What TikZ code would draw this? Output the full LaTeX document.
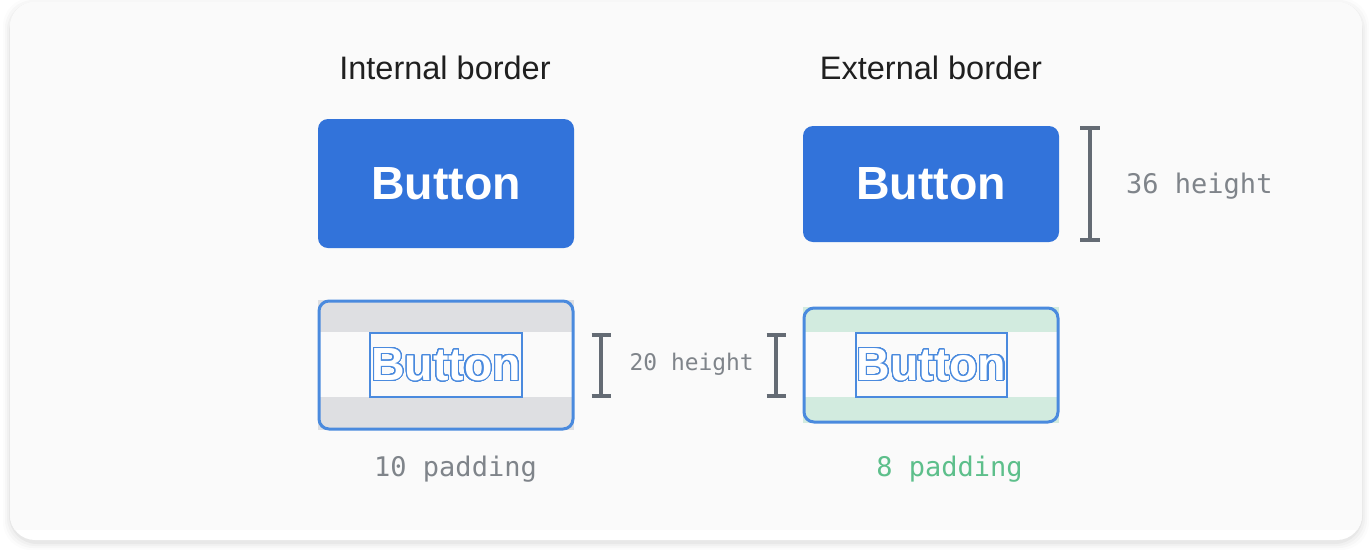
\documentclass[tikz,border=0pt]{standalone}
\usepackage{fontspec}
\setmainfont{Liberation Sans}
\newfontfamily\monof{DejaVu Sans Mono}
\usepackage{contour}
\contourlength{1.1pt}
\contournumber{40}
\definecolor{cardgray}{HTML}{FAFAFA}
\definecolor{btnblue}{HTML}{3273DA}
\definecolor{edgeblue}{HTML}{4A8ADE}
\definecolor{bandgray}{HTML}{DEDFE2}
\definecolor{bandgreen}{HTML}{D2EBDF}
\definecolor{barcol}{HTML}{646B74}
\definecolor{txtgray}{HTML}{7F848A}
\definecolor{txtgreen}{HTML}{5DBF8B}
\tikzset{
  title/.style={font=\fontsize{32.5}{36}\selectfont, text=black!88},
  btn/.style={fill=btnblue, rounded corners=10pt, inner sep=0pt, text=white,
    font=\fontsize{46.5}{50}\selectfont\bfseries},
  outerbox/.style={draw=edgeblue, line width=3pt, rounded corners=10pt, inner sep=0pt},
  textbox/.style={draw=edgeblue, line width=1.4pt, inner sep=0pt,
    font=\fontsize{46.5}{50}\selectfont\bfseries},
  bar/.style={draw=barcol, line width=3.5pt},
  meas/.style={font=\monof\fontsize{27}{30}\selectfont, text=txtgray, inner sep=0pt},
}
\begin{document}
\begin{tikzpicture}[x=1pt,y=-1pt]
\useasboundingbox (0,0) rectangle (1372,558);
\fill[white] (0,0) rectangle (1372,558);
% card shadow
\foreach \i/\o in {1/0.035,3/0.025,5/0.018,7/0.012}
  \fill[black,opacity=\o,rounded corners=28pt] (10-\i,2-\i+3) rectangle (1362+\i,540+\i+3);
\fill[white, rounded corners=25pt] (10,2) rectangle (1362,540);
\begin{scope}
  \clip[rounded corners=25pt] (10,2) rectangle (1362,540);
  \fill[cardgray] (10,2) rectangle (1362,530);
\end{scope}
% titles
\node[title] (t1) at (445,68) {Internal border};
\node[title] (t2) at (931,68) {External border};
% top buttons
\node[btn, minimum width=256pt, minimum height=129pt] (b1) at (446,183.5) {Button};
\node[btn, minimum width=256pt, minimum height=116pt] (b2) at (931,184) {Button};
% 36 height
\coordinate (m1t) at (1090,128);
\coordinate (m1b) at (1090,240);
\draw[bar] (m1t) -- (m1b);
\draw[bar] ([xshift=-10pt]m1t) -- ([xshift=10pt]m1t);
\draw[bar] ([xshift=-10pt]m1b) -- ([xshift=10pt]m1b);
\node[meas, anchor=west] (h36) at (1126,186) {36 height};
% bottom left box
\fill[bandgray] (318,300) rectangle (574,332);
\fill[bandgray] (318,397) rectangle (574,430);
\node[outerbox, minimum width=254pt, minimum height=128pt] (o1) at (446,365) {};
\node[textbox, minimum width=152pt, minimum height=64pt] (i1) at (446,365) {\contour{edgeblue}{\color{white}Button}};
% bottom right box
\fill[bandgreen] (803,307) rectangle (1059,332);
\fill[bandgreen] (803,397) rectangle (1059,423);
\node[outerbox, minimum width=254pt, minimum height=114pt] (o2) at (931,365) {};
\node[textbox, minimum width=151pt, minimum height=64pt] (i2) at (931.5,365) {\contour{edgeblue}{\color{white}Button}};
% 20 height
\coordinate (m2t) at (601,335);
\coordinate (m2b) at (601,396);
\draw[bar] (m2t) -- (m2b);
\draw[bar] ([xshift=-9.5pt]m2t) -- ([xshift=9.5pt]m2t);
\draw[bar] ([xshift=-9.5pt]m2b) -- ([xshift=9.5pt]m2b);
\coordinate (m3t) at (776,335);
\coordinate (m3b) at (776,396);
\draw[bar] (m3t) -- (m3b);
\draw[bar] ([xshift=-9.5pt]m3t) -- ([xshift=9.5pt]m3t);
\draw[bar] ([xshift=-9.5pt]m3b) -- ([xshift=9.5pt]m3b);
\node[meas, font=\monof\fontsize{22.9}{26}\selectfont, anchor=west] (h20) at (629.5,364) {20 height};
% paddings
\node[meas] (p10) at (455.5,469) {10 padding};
\node[meas, text=txtgreen] (p8) at (949.5,469) {8 padding};
\end{tikzpicture}
\end{document}
